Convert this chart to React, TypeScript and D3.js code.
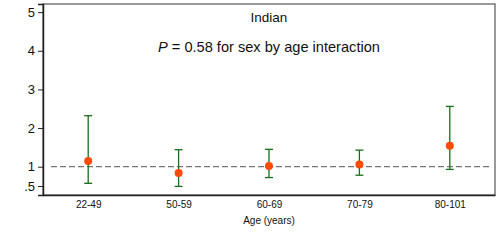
import React, { useEffect, useRef } from 'react';
import * as d3 from 'd3';

const ageGroups = ['22-49', '50-59', '60-69', '70-79', '80-101'];
const estimates = [1.15, 0.84, 1.02, 1.06, 1.54];
const lowerCI = [0.57, 0.49, 0.72, 0.78, 0.93];
const upperCI = [2.32, 1.44, 1.45, 1.43, 2.56];
const yTicks = [0.5, 1, 2, 3, 4, 5];
const yTickLabels = ['.5', '1', '2', '3', '4', '5'];

function App() {
  const svgRef = useRef<SVGSVGElement>(null);

  useEffect(() => {
    const width = 498;
    const height = 247;
    const margin = { top: 4, right: 3, bottom: 52, left: 43 };
    const font = 'Liberation Sans, Arial, Helvetica, sans-serif';

    const svg = d3.select(svgRef.current)
      .attr('width', width)
      .attr('height', height)
      .style('font-family', font);

    svg.selectAll('*').remove();

    const xScale = d3.scaleLinear()
      .domain([0.5, 5.5])
      .range([margin.left, width - margin.right]);

    const yScale = d3.scaleLinear()
      .domain([0.268, 5.21])
      .range([height - margin.bottom, margin.top]);

    const data = ageGroups.map((g, i) => ({
      group: g,
      x: i + 1,
      est: estimates[i],
      lo: lowerCI[i],
      hi: upperCI[i],
    }));

    // frame
    svg.append('rect')
      .attr('x', margin.left)
      .attr('y', margin.top)
      .attr('width', width - margin.left - margin.right)
      .attr('height', height - margin.top - margin.bottom)
      .attr('fill', 'white')
      .attr('stroke', '#555')
      .attr('stroke-width', 1.2);

    // y axis
    const yAxis = svg.append('g')
      .attr('transform', `translate(${margin.left},0)`)
      .call(d3.axisLeft(yScale)
        .tickValues(yTicks)
        .tickSize(5)
        .tickPadding(3)
        .tickFormat((d, i) => yTickLabels[i]));
    yAxis.select('.domain').attr('stroke', '#222').attr('stroke-width', 1.5);
    yAxis.selectAll('line').attr('stroke', '#222');
    yAxis.selectAll('text')
      .attr('font-size', 13)
      .attr('font-family', font)
      .attr('fill', '#111');

    // x axis
    const xAxis = svg.append('g')
      .attr('transform', `translate(0,${height - margin.bottom})`)
      .call(d3.axisBottom(xScale)
        .tickValues(data.map(d => d.x))
        .tickSize(0)
        .tickPadding(6)
        .tickFormat((d, i) => ageGroups[i]));
    xAxis.select('.domain').attr('stroke', '#222').attr('stroke-width', 1.5);
    xAxis.selectAll('text')
      .attr('font-size', 10)
      .attr('font-family', font)
      .attr('fill', '#111');

    svg.append('text')
      .attr('x', (margin.left + width - margin.right) / 2)
      .attr('y', 224)
      .attr('text-anchor', 'middle')
      .attr('font-size', 10)
      .attr('fill', '#111')
      .text('Age (years)');

    // reference line at 1
    svg.append('line')
      .attr('x1', margin.left + 8)
      .attr('x2', width - margin.right - 6)
      .attr('y1', yScale(1))
      .attr('y2', yScale(1))
      .attr('stroke', '#777')
      .attr('stroke-width', 1.3)
      .attr('stroke-dasharray', '6,3');

    // error bars
    const bars = svg.append('g');
    bars.selectAll('line.ci')
      .data(data)
      .enter()
      .append('line')
      .attr('x1', d => xScale(d.x))
      .attr('x2', d => xScale(d.x))
      .attr('y1', d => yScale(d.lo))
      .attr('y2', d => yScale(d.hi))
      .attr('stroke', '#1a6e1a')
      .attr('stroke-width', 1.3);
    ['lo', 'hi'].forEach(k => {
      bars.selectAll(`line.cap-${k}`)
        .data(data)
        .enter()
        .append('line')
        .attr('x1', d => xScale(d.x) - 4)
        .attr('x2', d => xScale(d.x) + 4)
        .attr('y1', d => yScale(d[k]))
        .attr('y2', d => yScale(d[k]))
        .attr('stroke', '#1a6e1a')
        .attr('stroke-width', 1.3);
    });

    // points
    svg.append('g').selectAll('circle')
      .data(data)
      .enter()
      .append('circle')
      .attr('cx', d => xScale(d.x))
      .attr('cy', d => yScale(d.est))
      .attr('r', 4)
      .attr('fill', '#ff4a0a');

    // annotations
    const cx = (margin.left + width - margin.right) / 2;
    svg.append('text')
      .attr('x', cx)
      .attr('y', 22)
      .attr('text-anchor', 'middle')
      .attr('font-size', 13.5)
      .attr('fill', '#111')
      .text('Indian');

    const p = svg.append('text')
      .attr('x', cx)
      .attr('y', 52)
      .attr('text-anchor', 'middle')
      .attr('font-size', 14.6)
      .attr('fill', '#111');
    p.append('tspan').attr('font-style', 'italic').text('P');
    p.append('tspan').text(' = 0.58 for sex by age interaction');
  }, []);

  return (
    <div style={{ position: 'absolute', left: 0, top: 0 }}>
      <svg ref={svgRef}></svg>
    </div>
  );
}

export default App;
